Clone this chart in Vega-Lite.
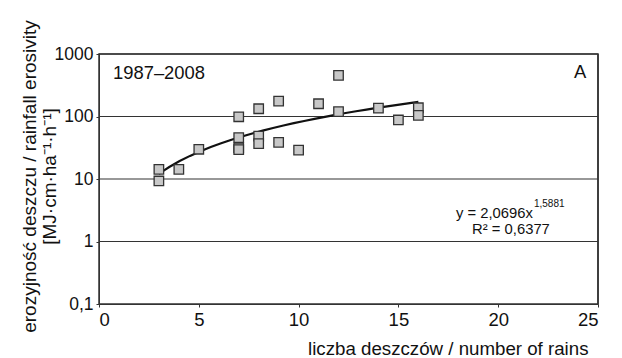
{
  "$schema": "https://vega.github.io/schema/vega-lite/v6.json",
  "autosize": "none",
  "width": 499,
  "height": 250,
  "padding": {"left": 99, "top": 54, "right": 24, "bottom": 54},
  "background": "white",
  "config": {
    "font": "Liberation Sans",
    "view": {"stroke": "#333333", "strokeWidth": 1.5},
    "axis": {"domainColor": "#333333", "tickColor": "#333333", "labelColor": "#111111", "titleColor": "#111111", "labelFont": "Liberation Sans", "titleFont": "Liberation Sans", "titleFontWeight": "normal"}
  },
  "datasets": {
    "pts": [
      {"n": 3, "e": 14.3}, {"n": 3, "e": 9.3},
      {"n": 4, "e": 14.3},
      {"n": 5, "e": 29.9},
      {"n": 7, "e": 99}, {"n": 7, "e": 46}, {"n": 7, "e": 31.6}, {"n": 7, "e": 29.5},
      {"n": 8, "e": 133}, {"n": 8, "e": 48.7}, {"n": 8, "e": 36.7},
      {"n": 9, "e": 176}, {"n": 9, "e": 38.6},
      {"n": 10, "e": 29},
      {"n": 11, "e": 160},
      {"n": 12, "e": 455}, {"n": 12, "e": 120},
      {"n": 14, "e": 136},
      {"n": 15, "e": 88},
      {"n": 16, "e": 138}, {"n": 16, "e": 104}
    ],
    "grid": [{"g": 1}, {"g": 10}, {"g": 100}, {"g": 1000}],
    "frame": [{"f": 25}],
    "labels": [
      {"n": 0.7, "e": 489, "t": "1987–2008", "k": "period"},
      {"n": 24.1, "e": 512, "t": "A", "k": "panel"}
    ]
  },
  "layer": [
    {
      "data": {"name": "grid"},
      "mark": {"type": "rule", "color": "#333333", "strokeWidth": 1.2},
      "encoding": {
        "y": {"field": "g", "type": "quantitative", "scale": {"type": "log", "domain": [0.1, 1000]}}
      }
    },
    {
      "data": {"name": "frame"},
      "mark": {"type": "rule", "color": "#333333", "strokeWidth": 1.5},
      "encoding": {
        "x": {"field": "f", "type": "quantitative"}
      }
    },
    {
      "data": {"name": "pts"},
      "transform": [{"regression": "e", "on": "n", "method": "pow", "extent": [3, 16]}],
      "mark": {"type": "line", "color": "#111111", "strokeWidth": 2.2},
      "encoding": {
        "x": {"field": "n", "type": "quantitative"},
        "y": {"field": "e", "type": "quantitative"}
      }
    },
    {
      "data": {"name": "pts"},
      "mark": {"type": "square", "size": 90, "fill": "#c8c8c8", "stroke": "#333333", "strokeWidth": 1.3, "opacity": 1},
      "encoding": {
        "x": {
          "field": "n", "type": "quantitative",
          "scale": {"domain": [0, 25], "nice": false},
          "axis": {
            "values": [0, 5, 10, 15, 20, 25], "grid": false, "tickSize": 3, "labelFontSize": 18.5, "labelPadding": 3,
            "title": "liczba deszczów / number of rains", "titleFontSize": 18.7, "titleAnchor": "end", "titleAlign": "right",
            "titleX": 489, "titleY": 50, "titleBaseline": "alphabetic"
          }
        },
        "y": {
          "field": "e", "type": "quantitative",
          "scale": {"type": "log", "domain": [0.1, 1000], "nice": false},
          "axis": {
            "values": [0.1, 1, 10, 100, 1000], "grid": false, "tickSize": 3, "labelFontSize": 17.5, "labelPadding": 3,
            "labelExpr": "replace(toString(datum.value), '.', ',')",
            "labelBaseline": "middle",
            "title": ["erozyjność deszczu / rainfall erosivity", "[MJ·cm·ha⁻¹·h⁻¹]"],
            "titleFontSize": 19, "titleLineHeight": 20, "titleX": -70, "titleY": 122, "titleAngle": -90, "titleBaseline": "middle"
          }
        }
      }
    },
    {
      "data": {"name": "labels"},
      "transform": [{"filter": "datum.k == 'period'"}],
      "mark": {"type": "text", "align": "left", "baseline": "middle", "fontSize": 18.4, "color": "#111111"},
      "encoding": {
        "x": {"field": "n", "type": "quantitative"},
        "y": {"field": "e", "type": "quantitative"},
        "text": {"field": "t"}
      }
    },
    {
      "data": {"name": "labels"},
      "transform": [{"filter": "datum.k == 'panel'"}],
      "mark": {"type": "text", "align": "center", "baseline": "middle", "fontSize": 18.4, "color": "#111111"},
      "encoding": {
        "x": {"field": "n", "type": "quantitative"},
        "y": {"field": "e", "type": "quantitative"},
        "text": {"field": "t"}
      }
    },
    {
      "data": {"values": [{"n": 21.74, "e": 2.8, "t": "y = 2,0696x"}]},
      "mark": {"type": "text", "align": "right", "baseline": "middle", "fontSize": 14.8, "color": "#111111"},
      "encoding": {
        "x": {"field": "n", "type": "quantitative"},
        "y": {"field": "e", "type": "quantitative"},
        "text": {"field": "t"}
      }
    },
    {
      "data": {"values": [{"n": 21.79, "e": 3.91, "t": "1,5881"}]},
      "mark": {"type": "text", "align": "left", "baseline": "middle", "fontSize": 10, "color": "#111111"},
      "encoding": {
        "x": {"field": "n", "type": "quantitative"},
        "y": {"field": "e", "type": "quantitative"},
        "text": {"field": "t"}
      }
    },
    {
      "data": {"values": [{"n": 20.64, "e": 1.5, "t": "R² = 0,6377"}]},
      "mark": {"type": "text", "align": "center", "baseline": "middle", "fontSize": 14.8, "color": "#111111"},
      "encoding": {
        "x": {"field": "n", "type": "quantitative"},
        "y": {"field": "e", "type": "quantitative"},
        "text": {"field": "t"}
      }
    }
  ]
}
